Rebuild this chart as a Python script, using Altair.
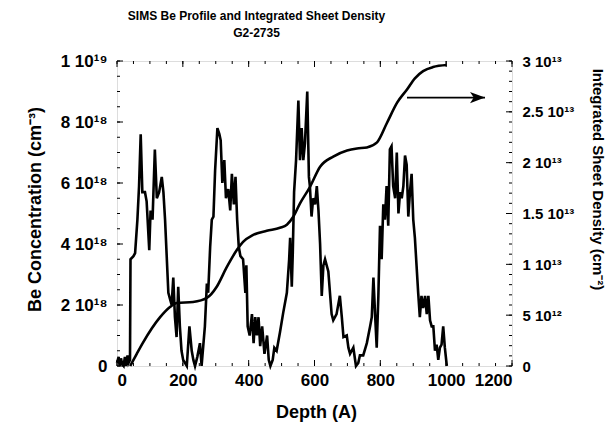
import altair as alt
import pandas as pd

# ---------------- data ----------------
depth = [0, 5, 8, 12, 16, 20, 24, 27, 32, 35, 39.5, 41, 50, 55, 62, 67, 72, 77, 85, 90, 98,
         102, 108, 115, 121, 128, 136, 141, 146, 156, 161, 166, 171, 176, 181, 186, 191,
         196, 201, 212, 220, 227, 232, 237, 244, 252, 257, 262, 267, 273, 277, 283, 288,
         293, 298, 305, 311, 315, 320, 326, 331, 338, 344, 349, 355, 360, 365, 370, 375,
         383, 390, 393, 397, 403, 410, 415, 420, 425, 430, 435, 441, 448, 456, 461, 466,
         473, 478, 485, 495, 505, 516, 523, 526, 531, 534, 538, 544, 551, 556, 561, 566,
         571, 578, 583, 586, 591, 596, 602, 607, 612, 617, 622, 627, 632, 642, 652, 657,
         667, 677, 683, 688, 698, 703, 708, 718, 726, 733, 738, 748, 759, 769, 774, 779,
         784, 789, 794, 799, 804, 809, 814, 819, 824, 829, 834, 839, 845, 850, 855, 860,
         865, 870, 875, 880, 885, 890, 895, 900, 905, 910, 915, 920, 925, 930, 936, 941,
         946, 951, 956, 961, 966, 971, 976, 981, 986, 991, 996, 1002]
be_conc_e18 = [0.1, 0.3, 0.0, 0.25, 0.05, 0.0, 0.3, 0.0, 0.35, 0.1, 0.2, 3.5, 3.6, 3.7, 4.8, 5.9, 7.6, 5.7, 5.7, 5.4, 3.8,
               5.1, 4.8, 7.1, 5.5, 5.7, 6.2, 5.7, 4.8, 2.4, 2.2, 2.0, 2.9, 1.6, 0.95, 2.6, 1.3,
               0.5, 0.2, 0.0, 1.3, 0.5, 0.2, 0.0, 0.3, 0.75, 0.0, 0.65, 1.3, 2.7, 2.4, 3.9, 4.8,
               4.9, 6.4, 7.8, 7.6, 7.4, 6.0, 6.75, 5.5, 5.8, 5.1, 6.3, 5.3, 6.2, 4.8, 3.9, 3.6,
               3.5, 2.4, 3.3, 1.3, 1.0, 1.7, 0.75, 1.6, 1.0, 1.6, 0.65, 1.3, 0.4, 1.0, 0.2, 0.0,
               0.2, 0.6, 0.5, 1.1, 1.75, 2.4, 3.5, 4.2, 2.6, 3.7, 5.7, 6.75, 8.7, 6.75, 7.8, 6.75,
               7.3, 9.0, 6.2, 5.9, 4.9, 5.5, 5.3, 5.9, 5.1, 4.0, 2.3, 3.3, 3.5, 3.1, 1.7, 1.5,
               1.7, 2.3, 1.6, 0.95, 1.0, 0.6, 0.4, 0.6, 0.0, 0.1, 0.35, 0.35, 0.75, 1.3, 1.6, 2.9,
               1.7, 0.6, 2.3, 4.6, 3.5, 5.3, 4.8, 5.9, 4.6, 7.1, 7.2, 5.9, 5.5, 7.0, 5.0, 5.7,
               5.5, 5.9, 6.9, 6.6, 4.9, 5.7, 6.3, 4.8, 4.2, 3.3, 2.4, 1.6, 2.3, 1.9, 2.3, 1.7,
               2.3, 1.5, 1.3, 1.3, 0.5, 0.7, 0.2, 0.6, 0.7, 1.3, 0.6, 0.0]

sheet_depth = [40, 60, 79, 131, 161, 182, 231, 273, 303, 333, 364, 383, 414, 455, 495, 516,
               536, 556, 586, 617, 657, 699, 729, 759, 790, 820, 851, 881, 905, 930, 960, 1002]
sheet_e13 = [0.0, 0.12, 0.23, 0.48, 0.58, 0.62, 0.63, 0.67, 0.78, 0.97, 1.14, 1.22, 1.29, 1.33, 1.36, 1.39,
             1.47, 1.6, 1.76, 1.96, 2.06, 2.12, 2.14, 2.15, 2.2, 2.39, 2.59, 2.72, 2.83, 2.9, 2.94, 2.96]

arrow_depth = [881, 1118]
arrow_level_e13 = [2.64, 2.64]

x_major = [0, 200, 400, 600, 800, 1000, 1200]
x_minor = list(range(0, 1201, 50))
left_values = [0, 2e18, 4e18, 6e18, 8e18, 1e19]
left_labels = ["0", "2 10¹⁸", "4 10¹⁸", "6 10¹⁸", "8 10¹⁸", "1 10¹⁹"]
left_minor = [i * 0.5e18 for i in range(21)]
right_values = [0, 5e12, 1e13, 1.5e13, 2e13, 2.5e13, 3e13]
right_labels = ["0", "5 10¹²", "1 10¹³", "1.5 10¹³", "2 10¹³", "2.5 10¹³", "3 10¹³"]
right_minor = [i * 1e12 for i in range(31)]

title_lines = ["SIMS Be Profile and Integrated Sheet Density", "G2-2735"]
x_title = "Depth (A)"
left_title = "Be Concentration (cm⁻³)"
right_title = "Integrated Sheet Density (cm⁻²)"

# ---------------- tables ----------------
conc_df = pd.DataFrame({"depth": depth, "conc": [c * 1e18 for c in be_conc_e18]})
sheet_df = pd.DataFrame({"depth": sheet_depth, "sheet": [s * 1e13 for s in sheet_e13]})
arrow_df = pd.DataFrame({"depth": arrow_depth, "sheet": [s * 1e13 for s in arrow_level_e13]})
head_df = arrow_df.iloc[[1]]

FONT = "Liberation Sans"
W, H = 395, 305
PAD_L, PAD_T = 117, 61
MAJ, MIN = 6, 3


def label_expr(vals, labs, tol):
    expr = "''"
    for v, l in reversed(list(zip(vals, labs))):
        expr = f"abs(datum.value - {v!r}) < {tol!r} ? '{l}' : " + expr
    return expr


xs = alt.Scale(domain=[0, 1200], nice=False, zero=False)
ys_left = alt.Scale(domain=[0, 1e19], nice=False)
ys_right = alt.Scale(domain=[0, 3e13], nice=False)

# main concentration line with label axes
conc_line = alt.Chart(conc_df).mark_line(color="black", strokeWidth=2.6).encode(
    x=alt.X("depth:Q", scale=xs, title=x_title,
            axis=alt.Axis(orient="bottom", values=x_major, ticks=False, domain=False, grid=False,
                          offset=0, format="d",
                          labelFont=FONT, labelFontSize=17, labelFontWeight="bold", labelColor="black",
                          labelPadding=6, titleFont=FONT, titleFontSize=18, titleFontWeight="bold",
                          titleColor="black", titleX=199, titleY=46, titleBaseline="middle",
                          titleAlign="center")),
    y=alt.Y("conc:Q", scale=ys_left, title=left_title,
            axis=alt.Axis(orient="left", values=left_values, ticks=False, domain=False, grid=False,
                          offset=0, labelExpr=label_expr(left_values, left_labels, 1e15),
                          labelFont=FONT, labelFontSize=17, labelFontWeight="bold", labelColor="black",
                          labelPadding=10, titleFont=FONT, titleFontSize=18, titleFontWeight="bold",
                          titleColor="black", titleX=-82, titleY=148, titleAngle=270,
                          titleBaseline="middle", titleAlign="center")),
)

sheet_line = alt.Chart(sheet_df).mark_line(color="black", strokeWidth=2.6, interpolate="monotone").encode(
    x=alt.X("depth:Q", scale=xs, axis=None),
    y=alt.Y("sheet:Q", scale=ys_right, title=right_title,
            axis=alt.Axis(orient="right", values=right_values, ticks=False, domain=False, grid=False,
                          offset=0, labelExpr=label_expr(right_values, right_labels, 1e9),
                          labelFont=FONT, labelFontSize=15, labelFontWeight="bold", labelColor="black",
                          labelPadding=10, titleFont=FONT, titleFontSize=15, titleFontWeight="bold",
                          titleColor="black", titleX=85, titleY=118, titleAngle=90,
                          titleBaseline="middle", titleAlign="center")),
)


# inward ticks: rules placed by the scales, tick length as a style
def xticks(values, edge_px, length):
    inner = edge_px - length if edge_px > 0 else edge_px + length
    return alt.Chart(pd.DataFrame({"v": values})).mark_rule(color="black", strokeWidth=1).encode(
        x=alt.X("v:Q", scale=xs, axis=None),
        y=alt.value(edge_px), y2=alt.value(inner))


def yticks(values, scale, edge_px, length):
    inner = edge_px - length if edge_px > 0 else edge_px + length
    return alt.Chart(pd.DataFrame({"v": values})).mark_rule(color="black", strokeWidth=1).encode(
        y=alt.Y("v:Q", scale=scale, axis=None),
        x=alt.value(edge_px), x2=alt.value(inner))


tick_layers = [
    xticks(x_major, H, MAJ), xticks(x_minor, H, MIN),
    xticks(x_major, 0, MAJ), xticks(x_minor, 0, MIN),
    yticks(left_values, ys_left, 0, MAJ), yticks(left_minor, ys_left, 0, MIN),
    yticks(right_values, ys_right, W, MAJ), yticks(right_minor, ys_right, W, MIN),
]

arrow_line = alt.Chart(arrow_df).mark_line(color="black", strokeWidth=1.8).encode(
    x=alt.X("depth:Q", scale=xs, axis=None),
    y=alt.Y("sheet:Q", scale=ys_right, axis=None),
)
arrow_head = alt.Chart(head_df).mark_point(
    shape="M0,0 L-2,-0.75 L-1.5,0 L-2,0.75 Z", filled=True, color="black", opacity=1,
    size=225, strokeWidth=0).encode(
    x=alt.X("depth:Q", scale=xs, axis=None),
    y=alt.Y("sheet:Q", scale=ys_right, axis=None),
)

chart = alt.layer(
    conc_line, sheet_line, *tick_layers, arrow_line, arrow_head,
).resolve_scale(y="independent").resolve_axis(x="independent", y="independent").properties(
    width=W, height=H,
    title=alt.TitleParams(text=title_lines, font=FONT, fontSize=12, fontWeight="bold", color="black",
                          anchor="middle", dx=-58, offset=12, lineHeight=17),
    autosize=alt.AutoSizeParams(type="none"),
    padding={"left": PAD_L, "top": PAD_T, "right": 613 - PAD_L - W, "bottom": 424 - PAD_T - H},
).configure_view(stroke="black", strokeWidth=1).configure(background="white")

chart.save("out.html", embed_options={"renderer": "svg", "actions": False})
